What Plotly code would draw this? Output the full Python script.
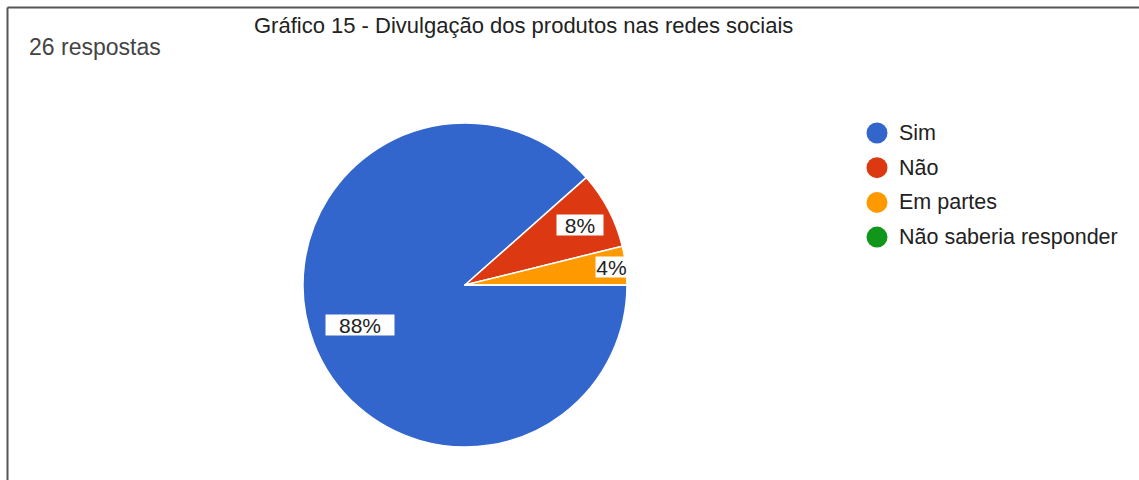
import math
import plotly.graph_objects as go

# ---- data ----
categories = ["Sim", "Não", "Em partes", "Não saberia responder"]
counts = [23, 2, 1, 0]
colors = ["#3366CC", "#DC3912", "#FF9900", "#109618"]
title_text = "Gráfico 15 - Divulgação dos produtos nas redes sociais"
subtitle_text = "26 respostas"

# ---- layout constants (pixels) ----
W, H = 1139, 480
CX, CY, R = 465, 285, 162
label_radius = [0.69, 0.80, 0.908]   # fraction of radius for each label
label_box_w = [68, 46, 31]           # white label box widths
LEG_X, LEG_Y0, LEG_DY, LEG_R = 877, 133, 34.7, 10.5
FONT = "Liberation Sans, Arial, sans-serif"

fig = go.Figure()
fig.add_trace(go.Pie(
    labels=categories, values=counts,
    marker=dict(colors=colors, line=dict(color="white", width=1.5)),
    sort=False, direction="clockwise", rotation=90,
    textinfo="none", hoverinfo="label+percent", showlegend=False,
    domain=dict(x=[(CX - R) / W, (CX + R) / W], y=[1 - (CY + R) / H, 1 - (CY - R) / H]),
))

# percentage labels computed from data
total = sum(counts)
cum = 0.0
annotations = []
for i, v in enumerate(counts):
    if v <= 0:
        continue
    frac = v / total
    mid = -(cum + frac / 2) * 2 * math.pi  # clockwise from 3 o'clock
    cum += frac
    f = label_radius[i]
    px = CX + f * R * math.cos(mid)
    py = CY - f * R * math.sin(mid)
    annotations.append(dict(
        x=px / W, y=1 - py / H, xref="paper", yref="paper",
        text=f"{round(frac * 100)}%", showarrow=False,
        font=dict(family=FONT, size=21, color="#222222"),
        bgcolor="white", borderpad=0, width=label_box_w[i], height=20,
        xanchor="center", yanchor="middle", align="center",
    ))

annotations.append(dict(x=523 / W, y=1 - 25 / H, xref="paper", yref="paper",
                        text=title_text, showarrow=False, xanchor="center", yanchor="middle",
                        font=dict(family=FONT, size=22, color="#222222")))
annotations.append(dict(x=27 / W, y=1 - 47 / H, xref="paper", yref="paper",
                        text=subtitle_text, showarrow=False, xanchor="left", yanchor="middle",
                        font=dict(family=FONT, size=23, color="#444444")))

shapes = [
    dict(type="line", xref="paper", yref="paper", x0=7.5 / W, x1=7.5 / W, y0=0, y1=1 - 7.5 / H,
         line=dict(color="#555555", width=2)),
    dict(type="line", xref="paper", yref="paper", x0=7.5 / W, x1=1, y0=1 - 7.5 / H, y1=1 - 7.5 / H,
         line=dict(color="#555555", width=2)),
]

# legend: circle swatch + label for each category
for i, (cat, col) in enumerate(zip(categories, colors)):
    yc = LEG_Y0 + i * LEG_DY
    shapes.append(dict(type="circle", xref="paper", yref="paper",
                       x0=(LEG_X - LEG_R) / W, x1=(LEG_X + LEG_R) / W,
                       y0=1 - (yc + LEG_R) / H, y1=1 - (yc - LEG_R) / H,
                       fillcolor=col, line=dict(width=0)))
    annotations.append(dict(x=(LEG_X + 20) / W, y=1 - yc / H, xref="paper", yref="paper",
                            text=cat, showarrow=False, xanchor="left", yanchor="middle",
                            font=dict(family=FONT, size=21.5, color="#222222")))

fig.update_layout(
    width=W, height=H, margin=dict(l=0, r=0, t=0, b=0),
    paper_bgcolor="white", plot_bgcolor="white",
    showlegend=False,
    annotations=annotations, shapes=shapes,
)

fig.write_html("out.html")
